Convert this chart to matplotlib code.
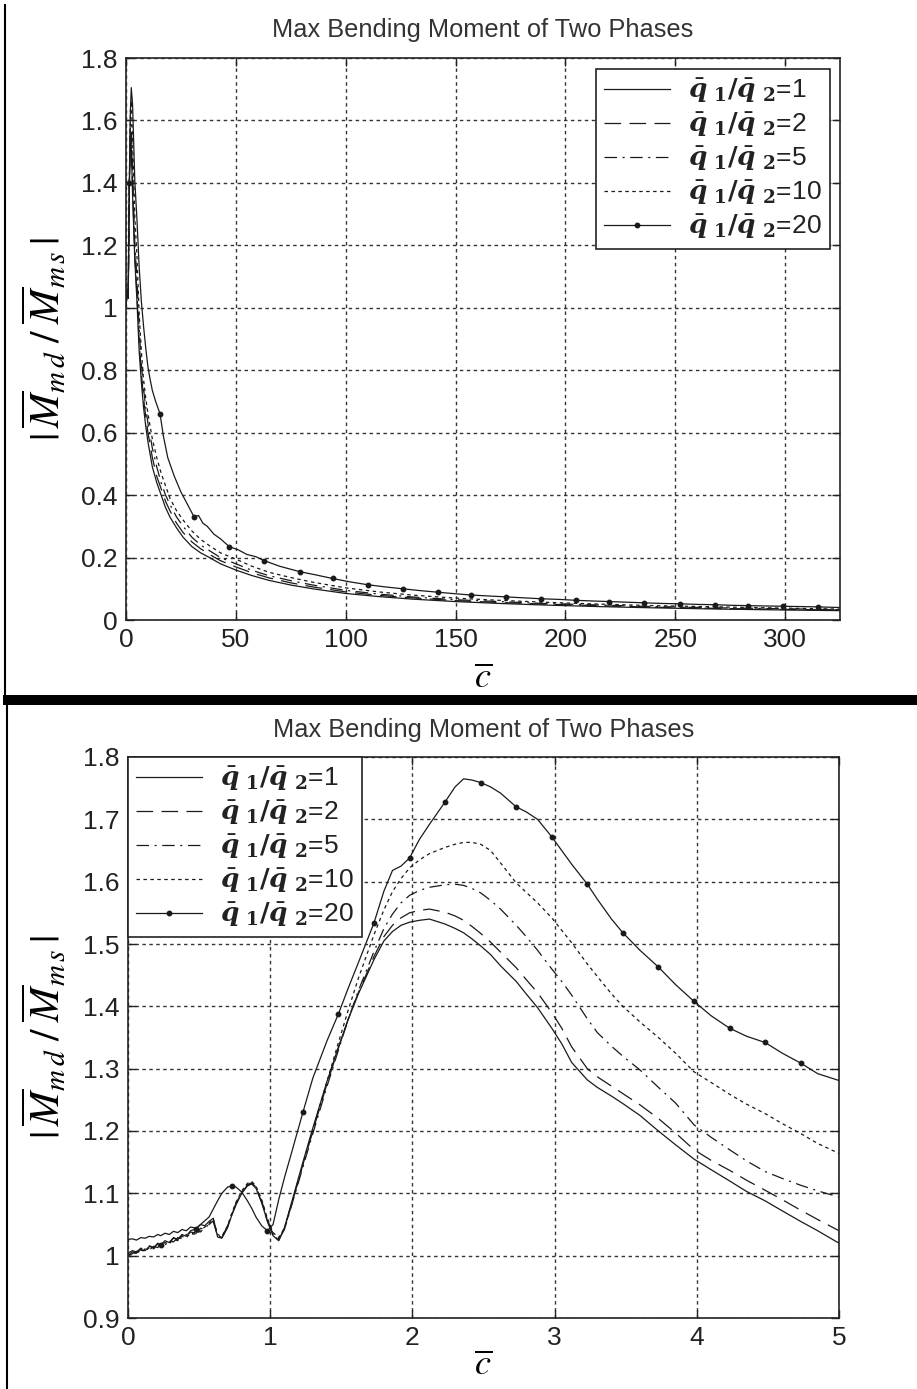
import numpy as np
import matplotlib
matplotlib.use("Agg")
import matplotlib.pyplot as plt
from matplotlib.lines import Line2D
from matplotlib.patches import Rectangle
from matplotlib.ticker import FuncFormatter, MultipleLocator

plt.rcParams['font.family'] = ['Liberation Sans', 'DejaVu Sans']
plt.rcParams['lines.scale_dashes'] = False

# ---------------- data ----------------
title = "Max Bending Moment of Two Phases"
ratios = ["1", "2", "5", "10", "20"]

# Top panel (c from 0 to 325)
c_top = [0, 0.5, 1, 1.5, 2, 2.4, 3, 4, 5, 6, 7, 8, 9, 10, 12, 14, 16, 18, 20, 23, 26, 30, 34, 38, 43,
         50, 57, 65, 75, 85, 100, 115, 130, 150, 170, 190, 215, 240, 270, 300, 325]
top_r1 = [1.025, 1.06, 1.03, 1.38, 1.535, 1.52, 1.36, 1.155, 1.02, 0.86, 0.76, 0.68, 0.62, 0.57, 0.49, 0.44,
          0.40, 0.36, 0.33, 0.295, 0.265, 0.235, 0.215, 0.20, 0.18, 0.16, 0.143, 0.127, 0.112, 0.100, 0.085,
          0.075, 0.067, 0.059, 0.053, 0.048, 0.043, 0.039, 0.035, 0.032, 0.030]
top_r2 = [1.005, 1.056, 1.033, 1.38, 1.55, 1.54, 1.385, 1.17, 1.04, 0.89, 0.79, 0.71, 0.65, 0.60, 0.52, 0.46,
          0.42, 0.38, 0.35, 0.31, 0.28, 0.25, 0.228, 0.21, 0.19, 0.17, 0.152, 0.135, 0.119, 0.106, 0.090,
          0.079, 0.071, 0.062, 0.056, 0.051, 0.046, 0.041, 0.037, 0.034, 0.032]
top_r5 = [1.0, 1.055, 1.035, 1.38, 1.583, 1.59, 1.44, 1.205, 1.094, 0.93, 0.82, 0.74, 0.68, 0.63, 0.55, 0.49,
          0.44, 0.40, 0.37, 0.33, 0.30, 0.265, 0.24, 0.222, 0.20, 0.18, 0.16, 0.142, 0.126, 0.112, 0.095,
          0.083, 0.074, 0.065, 0.059, 0.053, 0.048, 0.043, 0.039, 0.036, 0.033]
top_r10 = [1.002, 1.058, 1.037, 1.39, 1.628, 1.663, 1.54, 1.295, 1.164, 0.98, 0.86, 0.77, 0.71, 0.66, 0.58, 0.52,
           0.47, 0.43, 0.39, 0.35, 0.32, 0.285, 0.258, 0.238, 0.215, 0.195, 0.173, 0.153, 0.136, 0.121, 0.103,
           0.090, 0.080, 0.070, 0.063, 0.057, 0.051, 0.046, 0.042, 0.038, 0.035]
c_top20 = [0, 0.5, 1.0, 1.5, 2.0, 2.4, 3.0, 4.0, 5.0, 6.0, 7.0, 8.0, 9.0, 10.0, 11.0, 12.0, 13.5, 15.5, 17.0,
           19.0, 22.0, 25.0, 28.0, 31.0, 33.0, 35.0, 37.0, 40.0, 43.0, 47.0, 51.0, 55.0, 59.0, 63.0, 70.0,
           79.0, 86.0, 94.0, 102.0, 110.0, 118.0, 126.0, 134.0, 142.0, 150.0, 157.0, 165.0, 173.0, 181.0,
           189.0, 197.0, 205.0, 212.0, 220.0, 228.0, 236.0, 244.0, 252.0, 260.0, 268.0, 276.0, 283.0, 291.0,
           299.0, 307.0, 315.0, 325.0]
top_r20 = [1.0, 1.045, 1.04, 1.40, 1.63, 1.705, 1.65, 1.408, 1.281, 1.13, 1.02, 0.94, 0.87, 0.81, 0.77,
           0.735, 0.70, 0.66, 0.59, 0.52, 0.46, 0.41, 0.37, 0.33, 0.335, 0.31, 0.30, 0.275, 0.26, 0.235,
           0.225, 0.21, 0.203, 0.19, 0.172, 0.155, 0.145, 0.133, 0.122, 0.113, 0.106, 0.100, 0.094, 0.089,
           0.084, 0.080, 0.077, 0.074, 0.071, 0.068, 0.066, 0.063, 0.061, 0.059, 0.057, 0.055, 0.053, 0.052,
           0.050, 0.049, 0.047, 0.046, 0.045, 0.044, 0.043, 0.042, 0.040]
top_marks20 = [1.5, 15.5, 31.0, 47.0, 63.0, 79.0, 94.0, 110.0, 126.0, 142.0, 157.0, 173.0, 189.0, 205.0,
               220.0, 236.0, 252.0, 268.0, 283.0, 299.0, 315.0]

# Bottom panel (c from 0 to 5)
c_bot = [0.00, 0.03, 0.06, 0.09, 0.12, 0.15, 0.18, 0.21, 0.23, 0.26, 0.29, 0.32, 0.35, 0.38, 0.41, 0.44,
         0.48, 0.51, 0.54, 0.57, 0.60, 0.63, 0.66, 0.70, 0.73, 0.76, 0.80, 0.84, 0.87, 0.90, 0.94, 0.98,
         1.02, 1.06, 1.10, 1.15, 1.23, 1.30, 1.40, 1.48, 1.55, 1.62, 1.73, 1.80, 1.86, 1.92, 1.98, 2.05,
         2.12, 2.23, 2.30, 2.36, 2.42, 2.48, 2.55, 2.62, 2.73, 2.80, 2.88, 2.98, 3.05, 3.12, 3.23, 3.30,
         3.40, 3.48, 3.60, 3.73, 3.85, 3.98, 4.10, 4.23, 4.35, 4.48, 4.60, 4.73, 4.85, 5.00]
bot_r1 = [1.026, 1.027, 1.025, 1.029, 1.028, 1.031, 1.030, 1.034, 1.032, 1.036, 1.034, 1.039, 1.037, 1.042,
          1.040, 1.046, 1.044, 1.050, 1.048, 1.055, 1.060, 1.030, 1.028, 1.045, 1.065, 1.082, 1.100, 1.112,
          1.115, 1.108, 1.085, 1.055, 1.032, 1.024, 1.045, 1.085, 1.150, 1.205, 1.280, 1.335, 1.380, 1.420,
          1.475, 1.505, 1.520, 1.530, 1.535, 1.538, 1.540, 1.532, 1.525, 1.518, 1.508, 1.497, 1.483, 1.465,
          1.440, 1.420, 1.398, 1.365, 1.340, 1.310, 1.282, 1.270, 1.256, 1.244, 1.225, 1.200, 1.178, 1.155,
          1.138, 1.120, 1.103, 1.088, 1.072, 1.055, 1.040, 1.020]
bot_r2 = [1.004, 1.008, 1.006, 1.012, 1.010, 1.016, 1.013, 1.020, 1.018, 1.024, 1.021, 1.028, 1.026, 1.033,
          1.030, 1.038, 1.036, 1.044, 1.042, 1.050, 1.056, 1.032, 1.029, 1.046, 1.066, 1.083, 1.101, 1.113,
          1.116, 1.109, 1.086, 1.056, 1.033, 1.025, 1.043, 1.082, 1.146, 1.200, 1.276, 1.333, 1.380, 1.422,
          1.480, 1.512, 1.530, 1.542, 1.550, 1.554, 1.556, 1.551, 1.545, 1.538, 1.528, 1.517, 1.503, 1.487,
          1.462, 1.443, 1.422, 1.390, 1.365, 1.335, 1.300, 1.287, 1.272, 1.260, 1.242, 1.220, 1.197, 1.170,
          1.153, 1.137, 1.121, 1.105, 1.090, 1.073, 1.058, 1.040]
bot_r5 = [1.000, 1.003, 1.007, 1.005, 1.011, 1.009, 1.015, 1.013, 1.019, 1.017, 1.024, 1.022, 1.029, 1.027,
          1.034, 1.032, 1.040, 1.038, 1.045, 1.050, 1.055, 1.031, 1.030, 1.047, 1.067, 1.084, 1.102, 1.114,
          1.117, 1.110, 1.088, 1.058, 1.035, 1.027, 1.042, 1.080, 1.142, 1.196, 1.272, 1.330, 1.380, 1.425,
          1.488, 1.525, 1.548, 1.566, 1.578, 1.586, 1.591, 1.595, 1.596, 1.594, 1.589, 1.582, 1.570, 1.556,
          1.530, 1.512, 1.490, 1.460, 1.440, 1.418, 1.380, 1.358, 1.336, 1.320, 1.298, 1.270, 1.245, 1.210,
          1.190, 1.170, 1.152, 1.135, 1.124, 1.113, 1.104, 1.094]
bot_r10 = [1.002, 1.001, 1.005, 1.009, 1.007, 1.013, 1.011, 1.017, 1.015, 1.021, 1.019, 1.026, 1.024, 1.031,
           1.029, 1.036, 1.034, 1.041, 1.046, 1.052, 1.058, 1.034, 1.031, 1.048, 1.068, 1.086, 1.104, 1.116,
           1.119, 1.112, 1.090, 1.060, 1.037, 1.029, 1.044, 1.082, 1.146, 1.202, 1.280, 1.342, 1.395, 1.445,
           1.515, 1.555, 1.584, 1.605, 1.622, 1.635, 1.645, 1.655, 1.660, 1.663, 1.663, 1.660, 1.650, 1.630,
           1.598, 1.583, 1.566, 1.542, 1.522, 1.502, 1.468, 1.448, 1.420, 1.400, 1.375, 1.350, 1.325, 1.295,
           1.278, 1.259, 1.243, 1.228, 1.212, 1.196, 1.180, 1.164]
bot_r20 = [1.000, 1.006, 1.004, 1.010, 1.008, 1.015, 1.012, 1.019, 1.017, 1.024, 1.021, 1.029, 1.026, 1.034,
           1.031, 1.040, 1.043, 1.050, 1.056, 1.062, 1.075, 1.088, 1.100, 1.110, 1.112, 1.110, 1.102, 1.088,
           1.076, 1.062, 1.048, 1.040, 1.050, 1.090, 1.125, 1.165, 1.230, 1.285, 1.345, 1.388, 1.430, 1.470,
           1.534, 1.585, 1.618, 1.625, 1.638, 1.668, 1.692, 1.728, 1.752, 1.765, 1.763, 1.759, 1.752, 1.742,
           1.720, 1.712, 1.700, 1.672, 1.650, 1.628, 1.596, 1.572, 1.540, 1.518, 1.490, 1.463, 1.435, 1.408,
           1.385, 1.365, 1.352, 1.342, 1.325, 1.309, 1.292, 1.281]
bot_marks20 = [0.23, 0.48, 0.73, 0.98, 1.23, 1.48, 1.73, 1.98, 2.23, 2.48, 2.73, 2.98, 3.23, 3.48, 3.73,
               3.98, 4.23, 4.48, 4.73]

# ---------------- styles ----------------
INK = '#1a1a1a'
styles = [
    dict(linestyle='-'),
    dict(linestyle=(0, (12, 6))),
    dict(linestyle=(0, (9, 4, 1.5, 4))),
    dict(linestyle=(0, (2.5, 2.5))),
    dict(linestyle='-', marker='o', markersize=3.2),
]
LW = 0.9


def label(r):
    return (r'$\bar{\mathbfit{q}}\;_{\mathbf{1}}\mathbf{/}\bar{\mathbfit{q}}\;_{\mathbf{2}}$' + '=' + r)


def style_axes(ax):
    ax.grid(True, color='#333333', linestyle=(0, (2.5, 2.5)), linewidth=1.0)
    ax.tick_params(direction='in', length=6, width=1, top=True, right=True,
                   labelsize=19, colors='#222222', pad=6)
    for s in ax.spines.values():
        s.set_linewidth(1.2)
        s.set_color('#222222')
    ax.xaxis.set_major_formatter(FuncFormatter(lambda v, p: f'{v:g}'))
    ax.yaxis.set_major_formatter(FuncFormatter(lambda v, p: f'{round(v, 3):g}'))


fig = plt.figure(figsize=(9.17, 13.89), dpi=100)

# ---- top panel ----
ax1 = fig.add_axes([126 / 917, 1 - 620 / 1389, 714 / 917, 562 / 1389])
tops = [top_r1, top_r2, top_r5, top_r10]
for ys, st, r in zip(tops, styles[:4], ratios[:4]):
    ax1.plot(c_top, ys, color=INK, linewidth=LW, label=label(r), **st)
mk_idx_top = [c_top20.index(v) for v in top_marks20]
ax1.plot(c_top20, top_r20, color=INK, linewidth=LW, markevery=mk_idx_top, label=label(ratios[4]),
         markerfacecolor=INK, markeredgecolor=INK, **styles[4])
ax1.set_xlim(0, 325)
ax1.set_ylim(0, 1.8)
ax1.xaxis.set_major_locator(MultipleLocator(50))
ax1.yaxis.set_major_locator(MultipleLocator(0.2))
style_axes(ax1)

# ---- bottom panel ----
ax2 = fig.add_axes([128 / 917, 1 - 1318 / 1389, 711 / 917, 561 / 1389])
bots = [bot_r1, bot_r2, bot_r5, bot_r10]
for ys, st, r in zip(bots, styles[:4], ratios[:4]):
    ax2.plot(c_bot, ys, color=INK, linewidth=LW, label=label(r), **st)
mk_idx_bot = [c_bot.index(v) for v in bot_marks20]
ax2.plot(c_bot, bot_r20, color=INK, linewidth=LW, markevery=mk_idx_bot, label=label(ratios[4]),
         markerfacecolor=INK, markeredgecolor=INK, **styles[4])
ax2.set_xlim(0, 5)
ax2.set_ylim(0.9, 1.8)
ax2.xaxis.set_major_locator(MultipleLocator(1))
ax2.yaxis.set_major_locator(MultipleLocator(0.1))
style_axes(ax2)

for ax, loc, anchor, ttl_off, xl_off in [(ax1, 'upper right', (0.986, 0.981), 28 / 562, -58 / 562),
                                         (ax2, 'upper left', (0.0, 1.0), 27 / 561, -47 / 561)]:
    leg = ax.legend(loc=loc, bbox_to_anchor=anchor, fontsize=19, handlelength=2.5,
                    handletextpad=0.7, labelspacing=0.22, borderpad=0.3, borderaxespad=0.0,
                    fancybox=False, framealpha=1.0, edgecolor='#222222')
    leg.get_frame().set_linewidth(1.2)
    for t in leg.get_texts():
        t.set_math_fontfamily('dejavuserif')
        t.set_color('#222222')
    ax.text(0.5, 1 + ttl_off, title, transform=ax.transAxes, ha='center', va='center',
            fontsize=18.3, color='#333333')
    ax.set_xlabel(r'$\overline{c}$', fontsize=26, math_fontfamily='stix')
    ax.xaxis.set_label_coords(0.5, xl_off)
    ax.xaxis.label.set_va('center')
    ax.set_ylabel(r'$|\,\overline{M}_{m\,d}\;/\;\overline{M}_{m\,s}\,|$', fontsize=30,
                  math_fontfamily='stix')
    ax.yaxis.label.set_va('center')

ax1.yaxis.set_label_coords(-81 / 714, 0.5)
ax2.yaxis.set_label_coords(-83 / 711, 0.5)

# page decorations: separator bar and left border lines
fig.add_artist(Rectangle((3 / 917, 1 - 705 / 1389), 914 / 917, 10 / 1389, transform=fig.transFigure,
                         facecolor='black', edgecolor='none'))
fig.add_artist(Line2D([5 / 917, 5 / 917], [1 - 5 / 1389, 1 - 695 / 1389], transform=fig.transFigure,
                      color='black', linewidth=1.5))
fig.add_artist(Line2D([7 / 917, 7 / 917], [0, 1 - 705 / 1389], transform=fig.transFigure,
                      color='black', linewidth=1.5))

fig.savefig('out.png', dpi=100)
